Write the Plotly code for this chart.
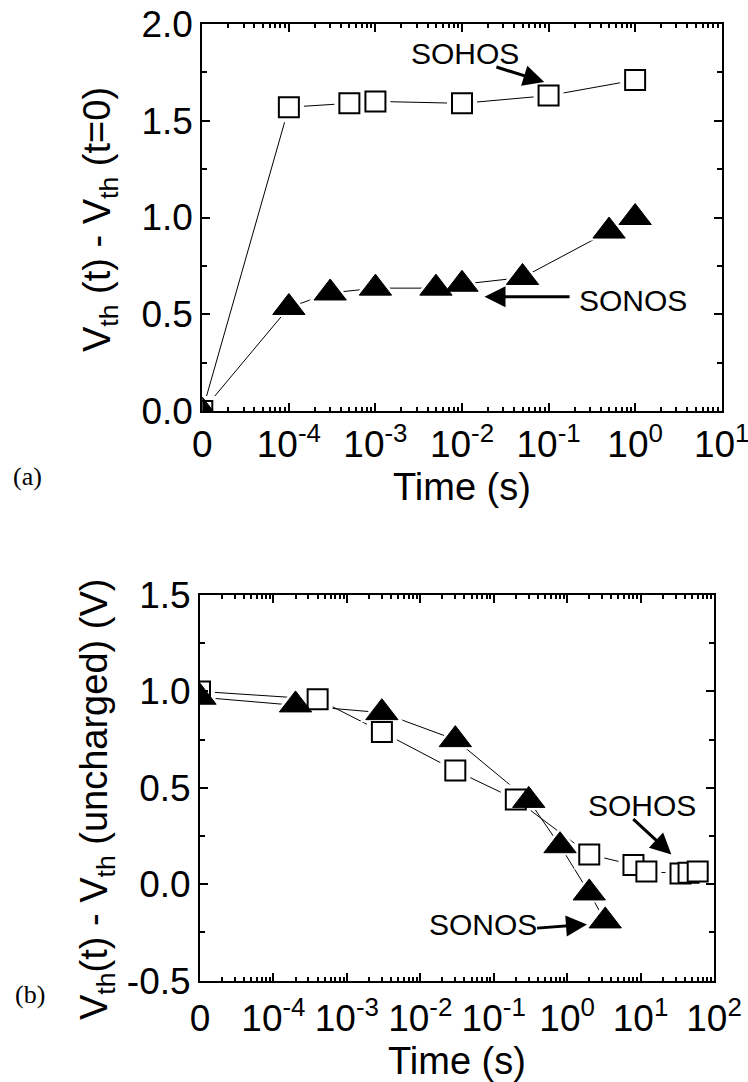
import numpy as np
import plotly.graph_objects as go

# ---------------- data (time in s, 0 = start) ----------------
top_t_sohos = [0, 1e-4, 5e-4, 1e-3, 1e-2, 1e-1, 1.0]
top_v_sohos = [0.0, 1.57, 1.59, 1.60, 1.59, 1.63, 1.71]
top_t_sonos = [0, 1e-4, 3e-4, 1e-3, 5e-3, 1e-2, 5e-2, 0.5, 1.0]
top_v_sonos = [0.0, 0.535, 0.61, 0.635, 0.635, 0.655, 0.69, 0.93, 1.0]

bot_t_sohos = [0, 4e-4, 3e-3, 3e-2, 0.2, 2.0, 8.0, 12.0, 35.0, 45.0, 60.0]
bot_v_sohos = [1.0, 0.96, 0.79, 0.59, 0.44, 0.155, 0.10, 0.066, 0.056, 0.06, 0.066]
bot_t_sonos = [0, 2e-4, 3e-3, 3e-2, 0.3, 0.8, 2.0, 3.3]
bot_v_sonos = [0.97, 0.93, 0.89, 0.75, 0.435, 0.20, -0.045, -0.19]

exponents_top = ["-4", "-3", "-2", "-1", "0", "1"]
exponents_bot = exponents_top + ["2"]
top_yvals = [0.0, 0.5, 1.0, 1.5, 2.0]
top_ylabels = ["0.0", "0.5", "1.0", "1.5", "2.0"]
bot_yvals = [-0.5, 0.0, 0.5, 1.0, 1.5]
bot_ylabels = ["-0.5", "0.0", "0.5", "1.0", "1.5"]

T_ZERO = 1e-5  # position where "0" is drawn on the log axis


def tpos(ts):
    return [T_ZERO if t == 0 else t for t in ts]


def pow_labels(exps):
    return ["0"] + ["10<sup>%s</sup>" % e for e in exps]


W, H = 748, 1082
FONT = "Liberation Sans, Arial, sans-serif"
SERIF = "Liberation Serif, Times New Roman, serif"

sq = dict(symbol="square", size=20, color="white", line=dict(color="black", width=2))
sq_halo = dict(symbol="square", size=30, color="white", line=dict(width=0))
tri = dict(symbol="triangle-up", size=28, color="black", line=dict(color="black", width=1))
tri_halo = dict(symbol="triangle-up", size=38, color="white", line=dict(width=0))
ln = dict(color="black", width=1)

series = [
    (tpos(top_t_sohos), top_v_sohos, sq, sq_halo, "x", "y"),
    (tpos(top_t_sonos), top_v_sonos, tri, tri_halo, "x", "y"),
    (tpos(bot_t_sohos), bot_v_sohos, sq, sq_halo, "x2", "y2"),
    (tpos(bot_t_sonos), bot_v_sonos, tri, tri_halo, "x2", "y2"),
]

fig = go.Figure()
# connecting lines
for xs, ys, m, h, xa, ya in series:
    fig.add_trace(go.Scatter(x=xs, y=ys, mode="lines", line=ln, xaxis=xa, yaxis=ya,
                             showlegend=False, hoverinfo="skip"))
# white halos -> small gaps between lines and symbols
for xs, ys, m, h, xa, ya in series:
    fig.add_trace(go.Scatter(x=xs, y=ys, mode="markers", marker=h, xaxis=xa, yaxis=ya,
                             showlegend=False, hoverinfo="skip"))
# symbols
for xs, ys, m, h, xa, ya in series:
    fig.add_trace(go.Scatter(x=xs, y=ys, mode="markers", marker=m, xaxis=xa, yaxis=ya,
                             showlegend=False))


def minor_vals(e0, e1):
    return [k * 10.0 ** e for e in range(e0, e1) for k in range(2, 10)]


axis_common = dict(showline=True, linecolor="black", linewidth=2, mirror="allticks",
                   ticks="inside", ticklen=8, tickwidth=2, tickcolor="black",
                   showgrid=False, zeroline=False, automargin=False,
                   ticklabeloverflow="allow",
                   tickfont=dict(family=FONT, size=37, color="black"))

top_dom_x = [202.3 / W, 721.7 / W]
top_dom_y = [1 - 411 / H, 1 - 24 / H]
bot_dom_x = [200 / W, 714 / W]
bot_dom_y = [1 - 980.7 / H, 1 - 595 / H]

ymin = dict(tick0=0, dtick=0.25, ticks="inside", ticklen=5, tickwidth=1.5,
            tickcolor="black", showgrid=False)

fig.update_layout(
    width=W, height=H, margin=dict(l=0, r=0, t=0, b=0),
    paper_bgcolor="white", plot_bgcolor="white",
    font=dict(family=FONT, color="black"),
    xaxis=dict(axis_common, type="log", range=[-5, 1], domain=top_dom_x, anchor="y",
               tickmode="array", tickvals=[10.0 ** e for e in range(-5, 2)],
               ticktext=pow_labels(exponents_top),
               minor=dict(tickmode="array", tickvals=minor_vals(-5, 1), ticks="inside",
                          ticklen=4, tickwidth=1.5, tickcolor="black", showgrid=False)),
    yaxis=dict(axis_common, range=[0, 2], domain=top_dom_y, anchor="x",
               tickmode="array", tickvals=top_yvals, ticktext=top_ylabels, minor=ymin),
    xaxis2=dict(axis_common, type="log", range=[-5, 2], domain=bot_dom_x, anchor="y2",
                tickmode="array", tickvals=[10.0 ** e for e in range(-5, 3)],
                ticktext=pow_labels(exponents_bot), ticklabelstandoff=4,
                minor=dict(tickmode="array", tickvals=minor_vals(-5, 2), ticks="inside",
                           ticklen=4, tickwidth=1.5, tickcolor="black", showgrid=False)),
    yaxis2=dict(axis_common, range=[-0.5, 1.5], domain=bot_dom_y, anchor="x2",
                tickmode="array", tickvals=bot_yvals, ticktext=bot_ylabels, minor=ymin),
)

ann = []
# axis titles
ann.append(dict(text="V<sub>th</sub> (t) - V<sub>th</sub> (t=0)", xref="paper", yref="paper",
                x=100 / W, y=1 - 220 / H, textangle=-90, showarrow=False,
                xanchor="center", yanchor="middle", font=dict(family=FONT, size=38)))
ann.append(dict(text="V<sub>th</sub>(t) - V<sub>th</sub> (uncharged) (V)", xref="paper", yref="paper",
                x=97 / W, y=1 - 800 / H, textangle=-90, showarrow=False,
                xanchor="center", yanchor="middle", font=dict(family=FONT, size=38)))
ann.append(dict(text="Time (s)", xref="paper", yref="paper", x=462 / W, y=1 - 487 / H,
                showarrow=False, xanchor="center", yanchor="middle", font=dict(family=FONT, size=38)))
ann.append(dict(text="Time (s)", xref="paper", yref="paper", x=457 / W, y=1 - 1061 / H,
                showarrow=False, xanchor="center", yanchor="middle", font=dict(family=FONT, size=38)))
# panel labels
ann.append(dict(text="(a)", xref="paper", yref="paper", x=28 / W, y=1 - 476 / H, showarrow=False,
                xanchor="center", yanchor="middle", font=dict(family=SERIF, size=26)))
ann.append(dict(text="(b)", xref="paper", yref="paper", x=30 / W, y=1 - 994 / H, showarrow=False,
                xanchor="center", yanchor="middle", font=dict(family=SERIF, size=26)))

lab_font = dict(family=FONT, size=30, color="black")
arrow = dict(text="", showarrow=True, arrowhead=2, arrowsize=1.4, arrowwidth=3, arrowcolor="black")
# top panel labels + arrows
ann.append(dict(text="SOHOS", x=-1.96, y=1.85, xref="x", yref="y", showarrow=False, font=lab_font))
ann.append(dict(arrow, x=-1.05, y=1.70, ax=-1.62, ay=1.78, xref="x", yref="y", axref="x", ayref="y"))
ann.append(dict(text="SONOS", x=-0.02, y=0.57, xref="x", yref="y", showarrow=False, font=lab_font))
ann.append(dict(arrow, x=-1.74, y=0.59, ax=-0.74, ay=0.59, xref="x", yref="y", axref="x", ayref="y"))
# bottom panel labels + arrows
ann.append(dict(text="SOHOS", x=1.02, y=0.41, xref="x2", yref="y2", showarrow=False, font=lab_font))
ann.append(dict(arrow, x=1.42, y=0.155, ax=0.88, ay=0.345, xref="x2", yref="y2", axref="x2", ayref="y2"))
ann.append(dict(text="SONOS", x=-1.15, y=-0.208, xref="x2", yref="y2", showarrow=False, font=lab_font))
ann.append(dict(arrow, x=0.27, y=-0.208, ax=-0.43, ay=-0.228, xref="x2", yref="y2", axref="x2", ayref="y2"))

fig.update_layout(annotations=ann)
fig.write_html("out.html")
